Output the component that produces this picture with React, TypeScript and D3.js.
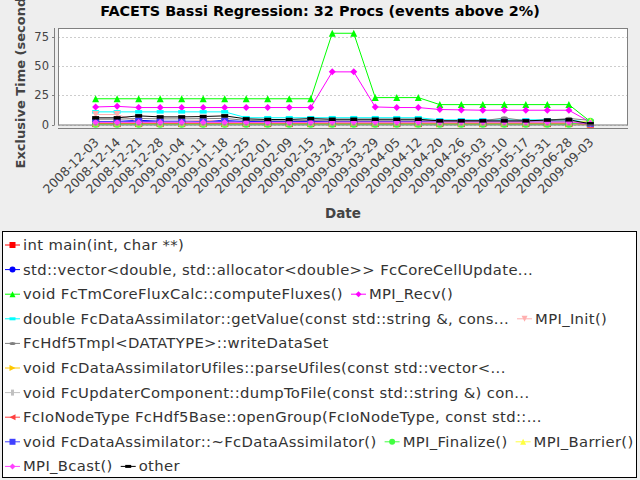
import React, { useRef, useEffect } from 'react';
import * as d3 from 'd3';

const dates = [
  '2008-12-03', '2008-12-14', '2008-12-21', '2008-12-28', '2009-01-04', '2009-01-11',
  '2009-01-18', '2009-01-25', '2009-02-01', '2009-02-09', '2009-02-15', '2009-03-24',
  '2009-03-25', '2009-03-29', '2009-04-05', '2009-04-12', '2009-04-20', '2009-04-26',
  '2009-05-03', '2009-05-10', '2009-05-17', '2009-05-31', '2009-06-28', '2009-09-03',
];

const seriesNames = [
  'int main(int, char **)',
  'std::vector<double, std::allocator<double>> FcCoreCellUpdate...',
  'void FcTmCoreFluxCalc::computeFluxes()',
  'MPI_Recv()',
  'double FcDataAssimilator::getValue(const std::string &, cons...',
  'MPI_Init()',
  'FcHdf5Tmpl<DATATYPE>::writeDataSet',
  'void FcDataAssimilatorUfiles::parseUfiles(const std::vector<...',
  'void FcUpdaterComponent::dumpToFile(const std::string &) con...',
  'FcIoNodeType FcHdf5Base::openGroup(FcIoNodeType, const std::...',
  'void FcDataAssimilator::~FcDataAssimilator()',
  'MPI_Finalize()',
  'MPI_Barrier()',
  'MPI_Bcast()',
  'other',
];

const seriesColors = [
  '#ff0000', '#0000ff', '#00ff00', '#ff00ff', '#00ffff', '#ffafaf', '#808080', '#ffc800',
  '#c0c0c0', '#ff4040', '#4040ff', '#40ff40', '#ffff40', '#ff40ff', '#000000',
];

const seriesShapes = [
  'square', 'circle', 'triangleUp', 'diamond', 'hRect', 'triangleDown', 'hEllipse', 'triangleRight',
  'vRect', 'triangleLeft', 'square', 'circle', 'triangleUp', 'diamond', 'hRect',
];

// exclusive time in seconds, one value per date
const mainTimes = [0.8, 0.8, 0.8, 0.8, 0.8, 0.8, 0.8, 0.8, 0.8, 0.8, 0.8, 0.8, 0.8, 0.8, 0.8, 0.8, 0.8, 0.8, 0.8, 0.8, 0.8, 0.8, 0.8, 0.3];
const cellUpdateTimes = [2.6, 2.6, 3.6, 2.8, 2.8, 2.8, 3.4, 2.5, 2.5, 2.5, 2.5, 2.6, 2.6, 2.6, 2.6, 2.6, 2.2, 2.2, 2.2, 2.2, 2.2, 2.2, 2.2, 1.2];
const computeFluxesTimes = [22, 22, 22, 22, 22, 22, 22, 22, 22, 22, 22, 78, 78, 23, 23, 23, 17, 17, 17, 17, 17, 17, 17, 2.5];
const recvTimes = [15, 15.5, 14.5, 14.5, 14.5, 14.5, 14.5, 14.5, 14.5, 14.5, 14.5, 45, 45, 15, 14.5, 14.5, 12.8, 12.5, 12.2, 12.2, 12.2, 12.2, 12.2, 2];
const getValueTimes = [10.8, 10.8, 10.8, 10.8, 10.8, 10.8, 10.8, 5.8, 5.8, 5.8, 5.8, 5.8, 5.8, 5.8, 5.8, 5.8, 4, 4, 4, 4, 4, 4, 4, 1.5];
const initTimes = [8.5, 8.5, 2.5, 2, 2, 4, 2, 1.5, 1.5, 1.5, 1.5, 1.2, 1.2, 1.2, 1.2, 1.2, 1, 1, 1, 1, 1, 1, 1, 0.8];
const writeDataSetTimes = [4.5, 4.5, 5.2, 4.8, 4.8, 5, 5.2, 3.5, 3.2, 3.2, 3.5, 3.6, 3.6, 3.6, 3.6, 3.6, 3.3, 3.3, 3.3, 5.5, 3.3, 3.6, 5.2, 3.5];
const parseUfilesTimes = [1.4, 1.4, 1.4, 1.4, 1.4, 1.4, 1.4, 0.6, 0.6, 0.6, 0.6, 0.5, 0.5, 0.5, 0.5, 0.5, 0.5, 0.5, 0.5, 0.5, 0.5, 0.5, 0.5, 0.3];
const dumpToFileTimes = [2, 2, 2, 2, 2, 2, 2, 1.5, 1.5, 1.5, 1.5, 1.5, 1.5, 1.5, 1.5, 1.5, 1.5, 1.5, 1.5, 1.5, 1.5, 1.5, 1.5, 0.8];
const openGroupTimes = [1.2, 1.2, 1.2, 1.2, 1.2, 1.2, 1.2, 1.2, 1.2, 1.2, 1.2, 1.2, 1.2, 1.2, 1.2, 1.2, 1.2, 1.2, 1.2, 1.2, 1.2, 1.2, 1.2, 0.5];
const destructorTimes = [2.2, 2.2, 2.8, 2.2, 2.2, 2.2, 2.6, 1.8, 1.8, 1.8, 1.8, 1.8, 1.8, 1.8, 1.8, 1.8, 1.8, 1.8, 1.8, 1.8, 1.8, 1.8, 1.8, 1];
const finalizeTimes = [0.2, 0.2, 0.2, 0.2, 0.2, 0.2, 0.2, 0.2, 0.2, 0.2, 0.2, 0.2, 0.2, 0.2, 0.2, 0.2, 0.2, 0.2, 0.2, 0.2, 0.2, 0.2, 0.2, 2.8];
const barrierTimes = [1.6, 1.6, 1.6, 1.6, 1.6, 1.6, 1.6, 1.7, 1.7, 1.7, 1.7, 1.9, 1.9, 1.9, 1.9, 1.9, 1.9, 1.9, 1.9, 1.9, 1.9, 1.9, 1.9, 2.6];
const bcastTimes = [1.8, 1.8, 1.8, 1.8, 1.8, 1.8, 1.8, 1.8, 1.8, 1.8, 1.8, 2, 2, 2, 2, 2, 2, 2, 2, 2, 2, 2, 2, 1];
const otherTimes = [5.7, 5.7, 7.4, 6.5, 6.5, 6.8, 7.4, 4.8, 4.3, 4.3, 5, 4.5, 4.5, 4.5, 4.5, 4.5, 3.1, 3.1, 3.1, 3.1, 3.1, 3.8, 4, 0.6];

const yTicks = [0, 25, 50, 75];

// which series share a legend line
const legendRows = [[0], [1], [2, 3], [4, 5], [6], [7], [8], [9], [10, 11, 12], [13, 14]];

const seriesValues = [
  mainTimes, cellUpdateTimes, computeFluxesTimes, recvTimes, getValueTimes, initTimes,
  writeDataSetTimes, parseUfilesTimes, dumpToFileTimes, openGroupTimes, destructorTimes,
  finalizeTimes, barrierTimes, bcastTimes, otherTimes,
];

const shapePath = (kind: string, s: number): string => {
  const h = s / 2;
  switch (kind) {
    case 'square': return `M${-h},${-h}h${s}v${s}h${-s}Z`;
    case 'circle': return `M${-h},0a${h},${h} 0 1,0 ${s},0a${h},${h} 0 1,0 ${-s},0Z`;
    case 'triangleUp': return `M0,${-h}L${h},${h}L${-h},${h}Z`;
    case 'diamond': return `M0,${-h}L${h},0L0,${h}L${-h},0Z`;
    case 'hRect': return `M${-h},${-h / 2}h${s}v${h}h${-s}Z`;
    case 'triangleDown': return `M0,${h}L${h},${-h}L${-h},${-h}Z`;
    case 'hEllipse': return `M${-h},0a${h},${h / 2} 0 1,0 ${s},0a${h},${h / 2} 0 1,0 ${-s},0Z`;
    case 'triangleRight': return `M${h},0L${-h},${-h}L${-h},${h}Z`;
    case 'vRect': return `M${-h / 2},${-h}h${h}v${s}h${-h}Z`;
    case 'triangleLeft': return `M${-h},0L${h},${-h}L${h},${h}Z`;
    default: return '';
  }
};

const FONT = '"DejaVu Sans", sans-serif';

const App = () => {
  const svgRef = useRef<SVGSVGElement | null>(null);

  useEffect(() => {
    const width = 640;
    const height = 480;
    const plot = { left: 58, right: 628, top: 28, bottom: 124.5 };

    const svg = d3.select(svgRef.current)
      .attr('width', width)
      .attr('height', height);

    svg.selectAll('*').remove();

    svg.append('rect')
      .attr('width', width)
      .attr('height', height)
      .attr('fill', '#eeeeee');

    const x = d3.scalePoint<string>()
      .domain(dates)
      .range([plot.left, plot.right])
      .padding(1.75);

    const y = d3.scaleLinear()
      .domain([0, 82.5])
      .range([plot.bottom, plot.top]);

    // title
    svg.append('text')
      .attr('x', width / 2)
      .attr('y', 16)
      .attr('text-anchor', 'middle')
      .attr('font-family', FONT)
      .attr('font-weight', 'bold')
      .attr('font-size', 14.4)
      .attr('fill', '#000')
      .text('FACETS Bassi Regression: 32 Procs (events above 2%)');

    // plot background and grid
    svg.append('rect')
      .attr('x', plot.left)
      .attr('y', plot.top)
      .attr('width', plot.right - plot.left)
      .attr('height', plot.bottom - plot.top)
      .attr('fill', '#fff');

    svg.append('g')
      .selectAll('line')
      .data(yTicks)
      .join('line')
      .attr('x1', plot.left)
      .attr('x2', plot.right)
      .attr('y1', d => Math.round(y(d)) + 0.5)
      .attr('y2', d => Math.round(y(d)) + 0.5)
      .attr('stroke', '#c0c0c0')
      .attr('stroke-width', 0.8)
      .attr('stroke-dasharray', '2,2');

    // series lines, then markers on top
    const line = d3.line<number>()
      .x((_, i) => x(dates[i]) as number)
      .y(d => y(d));

    const linesG = svg.append('g');
    seriesValues.forEach((vals, s) => {
      linesG.append('path')
        .datum(vals)
        .attr('fill', 'none')
        .attr('stroke', seriesColors[s])
        .attr('stroke-width', 1)
        .attr('d', line);
    });

    const shapesG = svg.append('g');
    dates.forEach((date, i) => {
      seriesValues.forEach((vals, s) => {
        shapesG.append('path')
          .attr('transform', `translate(${x(date)},${y(vals[i])})`)
          .attr('d', shapePath(seriesShapes[s], 7))
          .attr('fill', seriesColors[s]);
      });
    });

    svg.append('rect')
      .attr('x', plot.left + 0.5)
      .attr('y', plot.top + 0.5)
      .attr('width', plot.right - plot.left - 1)
      .attr('height', plot.bottom - plot.top)
      .attr('fill', 'none')
      .attr('stroke', '#808080');

    // y axis
    const yAxis = svg.append('g');
    yAxis.append('line')
      .attr('x1', 54.5).attr('x2', 54.5)
      .attr('y1', plot.top).attr('y2', plot.bottom + 0.5)
      .attr('stroke', '#808080');
    yAxis.selectAll('line.tick')
      .data(yTicks)
      .join('line')
      .attr('class', 'tick')
      .attr('x1', 52).attr('x2', 54.5)
      .attr('y1', d => Math.round(y(d)) + 0.5)
      .attr('y2', d => Math.round(y(d)) + 0.5)
      .attr('stroke', '#808080');
    yAxis.selectAll('text')
      .data(yTicks)
      .join('text')
      .attr('x', 49)
      .attr('y', d => y(d) + 4)
      .attr('text-anchor', 'end')
      .attr('font-family', FONT)
      .attr('font-size', 11.5)
      .attr('fill', '#444')
      .text(d => d);

    svg.append('text')
      .attr('transform', `translate(25,${(plot.top + plot.bottom) / 2}) rotate(-90)`)
      .attr('text-anchor', 'middle')
      .attr('font-family', FONT)
      .attr('font-weight', 'bold')
      .attr('font-size', 13)
      .attr('fill', '#444')
      .text('Exclusive Time (seconds)');

    // x axis
    const xAxisY = 128.5;
    svg.append('line')
      .attr('x1', plot.left).attr('x2', plot.right)
      .attr('y1', xAxisY).attr('y2', xAxisY)
      .attr('stroke', '#808080');

    svg.append('g')
      .selectAll('text')
      .data(dates)
      .join('text')
      .attr('transform', d => `translate(${(x(d) as number) + 4},${xAxisY + 14.5}) rotate(-45)`)
      .attr('text-anchor', 'end')
      .attr('font-family', FONT)
      .attr('font-size', 12.5)
      .attr('fill', '#444')
      .text(d => d);

    svg.append('text')
      .attr('x', (plot.left + plot.right) / 2)
      .attr('y', 218)
      .attr('text-anchor', 'middle')
      .attr('font-family', FONT)
      .attr('font-weight', 'bold')
      .attr('font-size', 13.5)
      .attr('fill', '#444')
      .text('Date');

    // legend
    const legend = svg.append('g');
    legend.append('rect')
      .attr('x', 2.5)
      .attr('y', 231.5)
      .attr('width', 634)
      .attr('height', 246)
      .attr('fill', '#fff')
      .attr('stroke', '#000');

    legendRows.forEach((row, r) => {
      const cy = 245 + r * 24.6;
      let cursor = 5;
      row.forEach(s => {
        const item = legend.append('g');
        item.append('line')
          .attr('x1', cursor).attr('x2', cursor + 15)
          .attr('y1', cy).attr('y2', cy)
          .attr('stroke', seriesColors[s]);
        item.append('path')
          .attr('transform', `translate(${cursor + 7.5},${cy})`)
          .attr('d', shapePath(seriesShapes[s], 6))
          .attr('fill', seriesColors[s]);
        const label = item.append('text')
          .attr('x', cursor + 18)
          .attr('y', cy + 5)
          .attr('font-family', FONT)
          .attr('font-size', 14.8)
          .attr('letter-spacing', 0.35)
          .attr('fill', '#333')
          .text(seriesNames[s]);
        const w = (label.node() as SVGTextElement).getComputedTextLength();
        cursor += 18 + w + 8;
      });
    });
  }, []);

  return (
    <svg ref={svgRef} style={{ position: 'absolute', left: 0, top: 0, display: 'block' }}></svg>
  );
};

export default App;
